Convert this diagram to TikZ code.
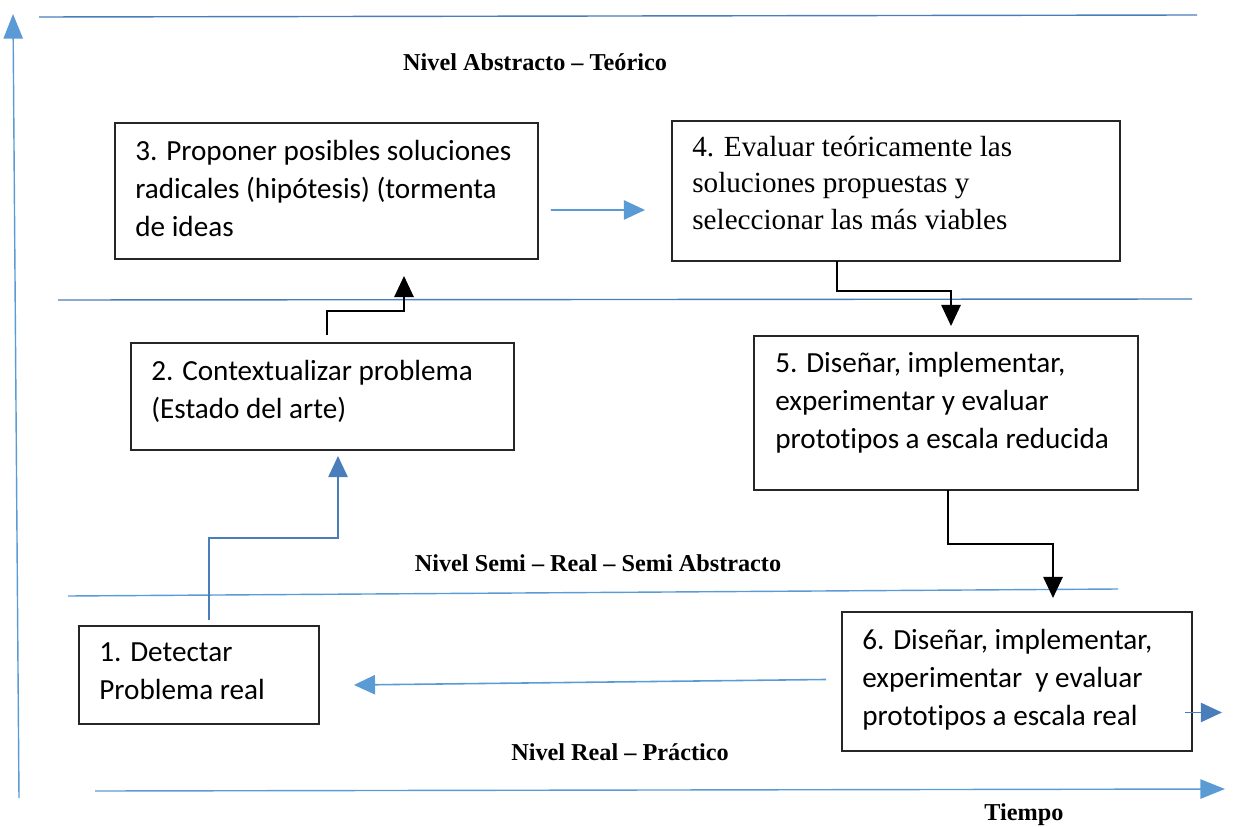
\documentclass[tikz,border=0pt]{standalone}
\usepackage{fontspec}
\setmainfont{Liberation Serif}
\newfontfamily\calibri[Ligatures=NoCommon]{Carlito}
\usetikzlibrary{positioning,arrows.meta,calc}
\definecolor{lineblue}{HTML}{5B9BD5}
\definecolor{arrowblue}{HTML}{4A7EBB}
\tikzset{>={Triangle[length=12pt,width=11pt]}}

\begin{document}
\begin{tikzpicture}[x=0.02cm, y=-0.02cm,
    stepbox/.style = {draw=black!85, line width=0.8pt, inner sep=0pt, outer sep=0pt, anchor=north west},
    steptext/.style = {anchor=north west, inner sep=0pt, align=left, font=\calibri\fontsize{16.6}{21.6}\selectfont},
    level/.style = {font=\bfseries\fontsize{13.8}{16}\selectfont},
    levelline/.style = {lineblue, line width=0.8pt},
    bluearrow/.style = {->, lineblue, line width=0.9pt},
    blkarrow/.style = {->, black, line width=1pt}]
        \useasboundingbox (0,0) rectangle (1240,827);

        % axes and levels
        \draw[levelline, -{Triangle[length=14pt,width=11pt]}] (19,798) -- (13,14);
        \draw[levelline, -{Triangle[length=14pt,width=11pt]}] (95,791) -- (1225,789);
        \draw[levelline, arrowblue] (39,17) -- (1197,15);
        \draw[levelline, arrowblue] (58,300) -- (1192,299);
        \draw[levelline] (68,596) -- (1118,589);

        \node[level] (abstracto) at (535,62) {Nivel Abstracto -- Teórico};
        \node[level] (semireal) at (598,563) {Nivel Semi -- Real -- Semi Abstracto};
        \node[level] (real) at (620,752) {Nivel Real -- Práctico};
        \node[level] (tiempo) at (1024,815) {Tiempo};

        % boxes
        \node[stepbox, minimum width=8.46cm, minimum height=2.72cm] (b3) at (115,123) {};
        \node[stepbox, minimum width=8.96cm, minimum height=2.80cm] (b4) at (672,121) {};
        \node[stepbox, minimum width=7.66cm, minimum height=2.14cm] (b2) at (131,343) {};
        \node[stepbox, minimum width=7.68cm, minimum height=3.08cm] (b5) at (754,336) {};
        \node[stepbox, minimum width=4.80cm, minimum height=1.96cm] (b1) at (79,626) {};
        \node[stepbox, minimum width=7.00cm, minimum height=2.78cm] (b6) at (842,612) {};

        \node[steptext] (t3) at ($(b3.north west)+(20,17)$) {3. Proponer posibles soluciones\\radicales (hipótesis) (tormenta\\de ideas};
        \node[steptext, font=\fontsize{16.6}{20.6}\selectfont] (t4) at ($(b4.north west)+(20,15)$) {4. Evaluar teóricamente las\\soluciones propuestas y\\seleccionar las más viables};
        \node[steptext] (t2) at ($(b2.north west)+(20,17)$) {2. Contextualizar problema\\(Estado del arte)};
        \node[steptext] (t5) at ($(b5.north west)+(21,16)$) {5. Diseñar, implementar,\\experimentar y evaluar\\prototipos a escala reducida};
        \node[steptext] (t1) at ($(b1.north west)+(20,16)$) {1. Detectar\\Problema real};
        \node[steptext] (t6) at ($(b6.north west)+(20,17)$) {6. Diseñar, implementar,\\experimentar\ \ y evaluar\\prototipos a escala real};

        % connectors
        \draw[bluearrow] ($(b3.east)+(13,19)$) -- ($(b4.west)+(-27,19)$);
        \draw[blkarrow] ($(b2.north west)+(196,-8)$) -- ++(0,-24) -| ($(b3.south west)+(289,17)$);
        \draw[blkarrow] ($(b4.south west)+(165,0)$) -- ++(0,30) -| ($(b5.north west)+(197,-10)$);
        \draw[blkarrow] ($(b5.south west)+(194,0)$) -- ++(0,54) -| ($(b6.north west)+(211,-14)$);
        \draw[bluearrow, arrowblue] ($(b1.north west)+(130,-6)$) -- ++(0,-82) -| ($(b2.south west)+(207,6)$);
        \draw[bluearrow] ($(b6.west)+(-16,-2)$) -- ($(b1.east)+(35,10)$);
        \draw[bluearrow, arrowblue] ($(b6.east)+(-7,31)$) -- ++(37,0);
\end{tikzpicture}
\end{document}
